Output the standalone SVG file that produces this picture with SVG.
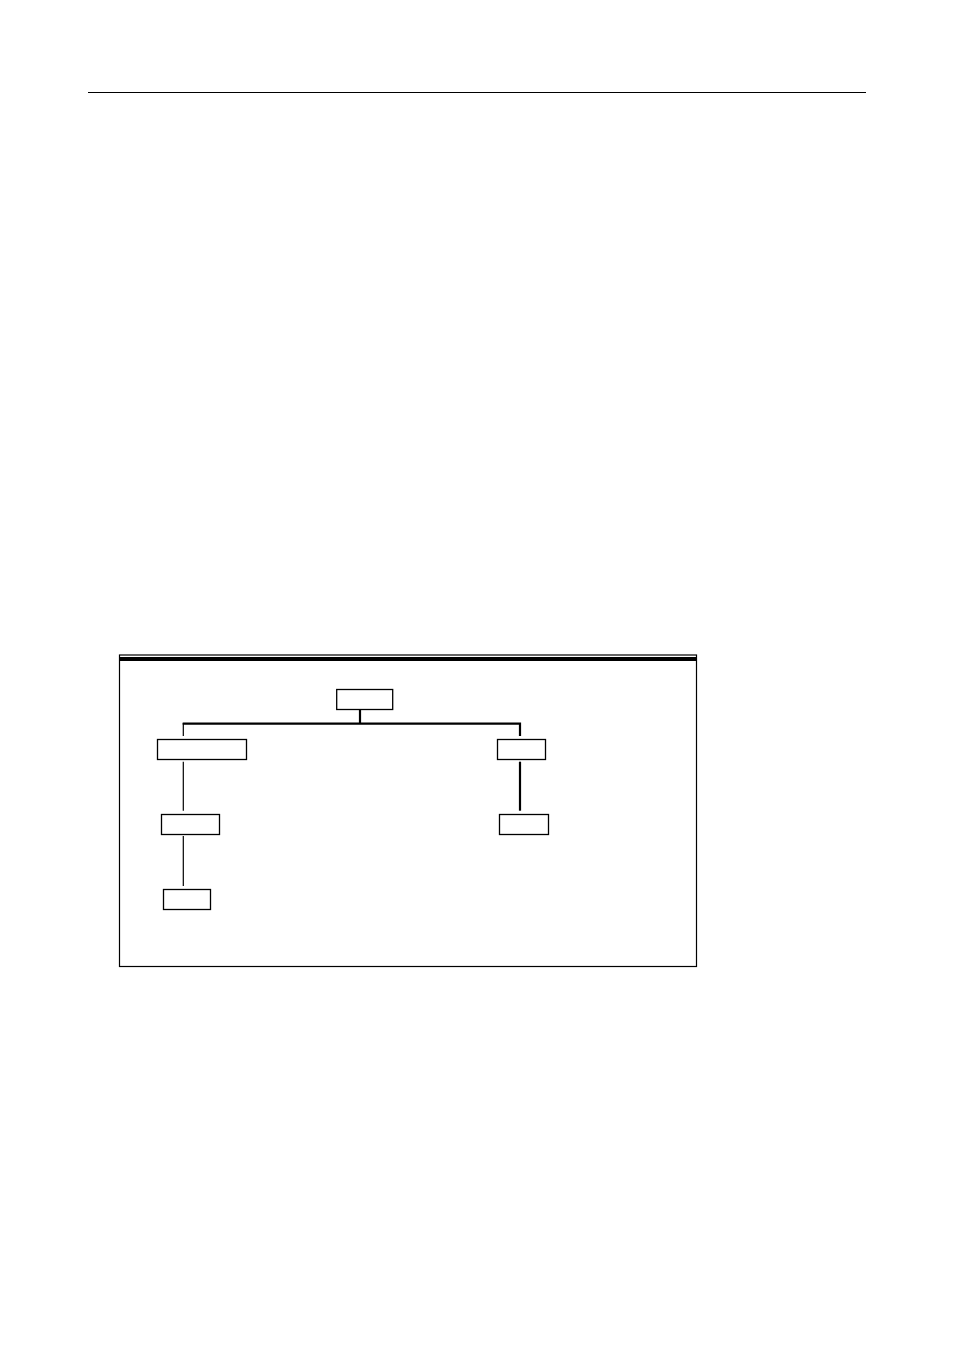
<svg xmlns="http://www.w3.org/2000/svg" width="954" height="1350" viewBox="0 0 954 1350">
<style>
.box{fill:#fff;stroke:#000;stroke-width:1.3}
.thin{stroke:#000;stroke-width:1.2;fill:none}
.thick{stroke:#000;stroke-width:2.2;fill:none}
</style>
<rect width="954" height="1350" fill="#fff"/>
<line x1="88" y1="92.5" x2="866" y2="92.5" stroke="#000" stroke-width="1"/>
<g id="frame">
<rect x="119.5" y="655" width="577" height="311.5" fill="none" stroke="#000" stroke-width="1.2"/>
<rect x="119.5" y="657" width="577" height="4" fill="#000"/>
</g>
<g id="connectors">
<line class="thick" x1="360" y1="710" x2="360" y2="724"/>
<polyline class="thick" points="182.7,723.7 520,723.7 520,736"/>
<line class="thin" x1="183.3" y1="723" x2="183.3" y2="736"/>
<line class="thin" x1="183.3" y1="761.7" x2="183.3" y2="810.7"/>
<line class="thin" x1="183.3" y1="836" x2="183.3" y2="886"/>
<line class="thick" x1="520" y1="761.7" x2="520" y2="810.7"/>
</g>
<g id="root"><rect class="box" x="336.7" y="689.5" width="56" height="20"/></g>
<g id="left1"><rect class="box" x="157.5" y="739.5" width="89" height="20"/></g>
<g id="left2"><rect class="box" x="161.5" y="814.5" width="58" height="20"/></g>
<g id="left3"><rect class="box" x="163.5" y="889.5" width="47" height="20"/></g>
<g id="right1"><rect class="box" x="497.5" y="739.5" width="48" height="20"/></g>
<g id="right2"><rect class="box" x="499.5" y="814.5" width="49" height="20"/></g>
</svg>
